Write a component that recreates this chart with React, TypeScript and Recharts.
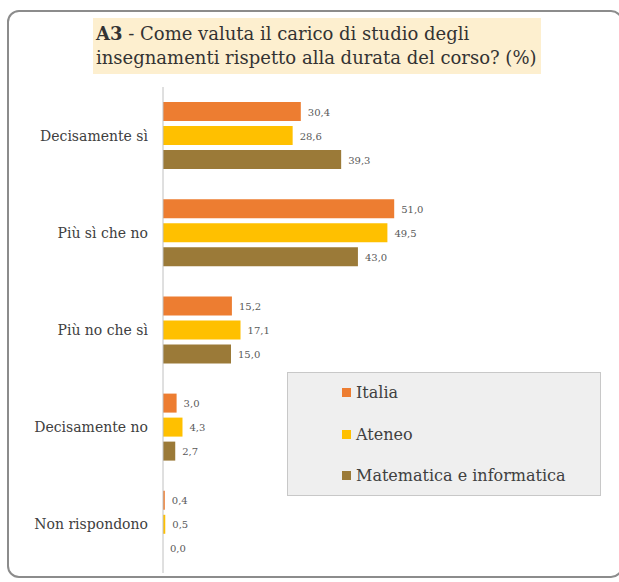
import React from "react";
import { BarChart, Bar, XAxis, YAxis, LabelList, Legend } from "recharts";

const categories = [
  "Decisamente sì",
  "Più sì che no",
  "Più no che sì",
  "Decisamente no",
  "Non rispondono",
];
const italia = [30.4, 51.0, 15.2, 3.0, 0.4];
const ateneo = [28.6, 49.5, 17.1, 4.3, 0.5];
const matInf = [39.3, 43.0, 15.0, 2.7, 0.0];

const seriesNames = ["Italia", "Ateneo", "Matematica e informatica"];
const colors = ["#ED7D31", "#FFC000", "#9B7A38"];

const data = categories.map((name, i) => ({
  name,
  italia: italia[i],
  ateneo: ateneo[i],
  matInf: matInf[i],
}));

const font = '"DejaVu Serif", serif';

// value label drawn by hand so the 0,0 also shows
const ValueLabel = (props: any) => {
  const { x, y, width, height, value } = props;
  return (
    <text
      x={Number(x) + Number(width || 0) + 7}
      y={Number(y) + Number(height) / 2}
      dy={4}
      fontFamily={font}
      fontSize={10}
      fill="#595959"
    >
      {Number(value).toFixed(1).replace(".", ",")}
    </text>
  );
};

// zero-valued bars still need an (invisible) rect so their label is drawn
const tinyForZero = (v: any) => (Number(v) === 0 ? 0.001 : 0);

const LegendBox = () => (
  <div
    style={{
      position: "absolute",
      left: 287,
      top: 372,
      width: 312,
      height: 122,
      background: "#efefef",
      border: "1px solid #c8c8c8",
      fontFamily: font,
      fontSize: 16,
      color: "#404040",
    }}
  >
    {seriesNames.map((n, i) => (
      <div
        key={n}
        style={{
          position: "absolute",
          left: 54,
          top: 10 + i * 41.5,
          display: "flex",
          alignItems: "center",
          whiteSpace: "nowrap",
        }}
      >
        <span
          style={{
            display: "inline-block",
            width: 9,
            height: 9,
            background: colors[i],
            marginRight: 5,
          }}
        />
        {n}
      </div>
    ))}
  </div>
);

export default function App() {
  return (
    <div
      style={{
        position: "absolute",
        left: 0,
        top: 0,
        width: 619,
        height: 582,
        background: "#fff",
        overflow: "hidden",
      }}
    >
      <div
        style={{
          position: "absolute",
          left: 7,
          top: 10,
          width: 616,
          height: 568,
          border: "2px solid #8c8c8c",
          borderRadius: 12,
          boxSizing: "border-box",
        }}
      />
      <div
        style={{
          position: "absolute",
          left: 93,
          top: 18,
          width: 448,
          height: 56,
          background: "#FDEFCF",
          fontFamily: font,
          fontSize: 18,
          lineHeight: "24px",
          color: "#333",
          padding: "4px 0 0 3px",
          boxSizing: "border-box",
          whiteSpace: "nowrap",
        }}
      >
        <b>A3</b> - Come valuta il carico di studio degli
        <br />
        insegnamenti rispetto alla durata del corso? (%)
      </div>
      <BarChart
        width={619}
        height={582}
        data={data}
        layout="vertical"
        margin={{ top: 87, right: 184, bottom: 9, left: 7 }}
        barCategoryGap="15.5%"
        barGap={5}
        style={{ position: "absolute", left: 0, top: 0 }}
      >
        <XAxis type="number" domain={[0, 60]} hide />
        <YAxis
          type="category"
          dataKey="name"
          width={156}
          tickLine={false}
          tickSize={0}
          tickMargin={15}
          axisLine={{ stroke: "#c0c0c0" }}
          tick={{ fontFamily: font, fontSize: 14, fill: "#404040" }}
        />
        <Bar dataKey="italia" fill={colors[0]} barSize={19} minPointSize={tinyForZero} isAnimationActive={false}>
          <LabelList dataKey="italia" content={ValueLabel} />
        </Bar>
        <Bar dataKey="ateneo" fill={colors[1]} barSize={19} minPointSize={tinyForZero} isAnimationActive={false}>
          <LabelList dataKey="ateneo" content={ValueLabel} />
        </Bar>
        <Bar dataKey="matInf" fill={colors[2]} barSize={19} minPointSize={tinyForZero} isAnimationActive={false}>
          <LabelList dataKey="matInf" content={ValueLabel} />
        </Bar>
        <Legend content={() => null} />
      </BarChart>
      <LegendBox />
    </div>
  );
}
